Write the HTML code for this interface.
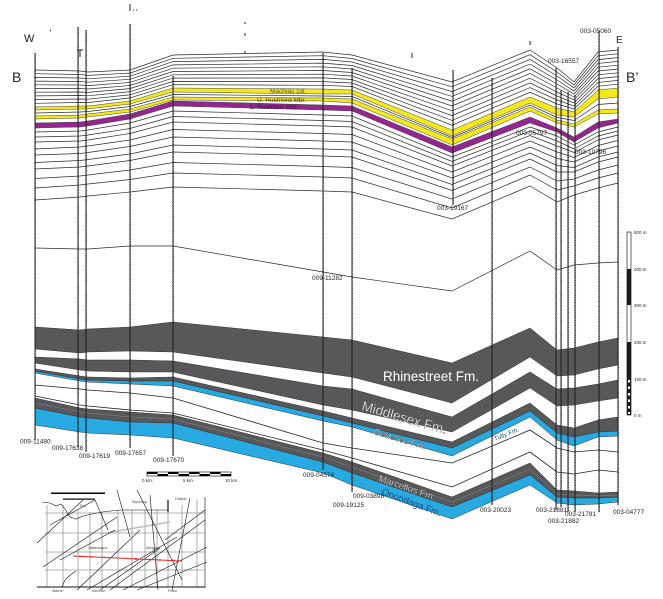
<!DOCTYPE html>
<html>
<head>
<meta charset="utf-8">
<style>
html,body{margin:0;padding:0;background:#fff;}
svg{display:block;}
text{font-family:"Liberation Sans",Arial,sans-serif;}
</style>
</head>
<body>
<svg width="663" height="599" viewBox="0 0 663 599" xmlns="http://www.w3.org/2000/svg">
<rect x="0" y="0" width="663" height="599" fill="#fff"/>

<!-- upper thin horizons -->
<g fill="none" stroke="#2a2a2a" stroke-width="0.7">
<polyline points="35,70 80,71 88,72 130,70 173,55 323,52 352,55 452,82 530,50 557,68 574,82 598,52 618,50"/>
<polyline points="35,73.7 80,74.5 88,75.4 130,73.1 173,58.3 323,55.7 352,58.5 452,86.8 530,54.7 557,72 574,85 598,55.8 618,53.8"/>
<polyline points="35,77.4 80,78 88,78.8 130,76.2 173,61.6 323,59.4 352,62 452,91.6 530,59.4 557,76 574,88 598,59.6 618,57.6"/>
<polyline points="35,81.1 80,81.5 88,82.2 130,79.3 173,64.9 323,63.1 352,65.5 452,96.4 530,64.1 557,80 574,91 598,63.4 618,61.4"/>
<polyline points="35,84.8 80,85 88,85.6 130,82.4 173,68.2 323,66.8 352,69 452,101.2 530,68.8 557,84 574,94 598,67.2 618,65.2"/>
<polyline points="35,88.5 80,88.5 88,89 130,85.5 173,71.5 323,70.5 352,72.5 452,106 530,73.5 557,88 574,97 598,71 618,69"/>
<polyline points="35,92.2 80,92 88,92.4 130,88.6 173,74.8 323,74.2 352,76 452,110.8 530,78.2 557,92 574,100 598,74.8 618,72.8"/>
<polyline points="35,95.9 80,95.5 88,95.8 130,91.7 173,78.1 323,77.9 352,79.5 452,115.6 530,82.9 557,96 574,103 598,78.6 618,76.6"/>
<polyline points="35,99.6 80,99 88,99.2 130,94.8 173,81.4 323,81.6 352,83 452,120.4 530,87.6 557,100 574,106 598,82.4 618,80.4"/>
<polyline points="35,103.3 80,102.5 88,102.6 130,97.9 173,84.7 323,85.3 352,86.5 452,125.2 530,92.3 557,104 574,109 598,86.2 618,84.2"/>
<polyline points="35,113 80,112 88,111.5 130,106.5 173,94.5 323,96 352,96.5 452,137.5 530,105 557,117.5 574,120.5 598,104.5 618,103"/>
<polyline points="35,132 80,131 88,130 130,123 173,111 323,115 352,116 452,157 530,127 557,136 574,145 598,132 618,127"/>
<polyline points="35,137 80,136 88,135 130,128.5 173,116.5 323,120.5 352,121.5 452,161.5 530,131 557,141 574,149 598,136 618,131"/>
<polyline points="35,142 80,141 88,140 130,133.5 173,122 323,126 352,127 452,166 530,135.5 557,146 574,152.5 598,140 618,135"/>
<polyline points="35,149 80,147 88,146 130,140 173,129.5 323,133.5 352,134.5 452,172 530,141 557,152 574,157.5 598,145.5 618,140.5"/>
<polyline points="35,155 80,153.5 88,152.5 130,146.5 173,137 323,141 352,142 452,178 530,147 557,158.5 574,162 598,151 618,146"/>
<polyline points="35,162.5 80,160.5 88,159.5 130,154 173,145 323,149 352,150 452,184.5 530,153 557,165.5 574,167.5 598,157 618,152"/>
<polyline points="35,169 80,167 88,166 130,160.5 173,152 323,156 352,157 452,190.5 530,159 557,172 574,172 598,162 618,157"/>
<polyline points="35,178.5 80,176 88,175 130,170 173,162.5 323,166.5 352,167.5 452,199 530,167 557,181 574,179 598,170 618,165"/>
<polyline points="35,188 80,185 88,184 130,179.5 173,173 323,177 352,178 452,208 530,175 557,190 574,186 598,178 618,173"/>
<polyline points="35,200 80,197 88,196 130,192 173,187 323,191 352,192 452,219 530,186 557,202 574,195 598,188 618,183"/>
<polyline points="35,248 80,249 88,249 130,246 173,246 323,272 352,277 452,291 530,251 557,270 574,265 598,263 618,262"/>
</g>

<!-- coloured marker beds -->
<g stroke="#444" stroke-width="0.5">
<polygon fill="#f3e81c" points="35,107 80,106 88,106 130,101 173,88 323,89 352,90 452,130 530,97 557,108 574,112 598,90 618,88 618,97 598,99 574,117 557,115 530,103 452,136 352,94 323,94 173,92 130,104 88,109 80,109 35,110"/>
<polygon fill="#f3e81c" points="35,116 80,115 88,114 130,109 173,97 323,98 352,99 452,139 530,107 557,120 574,124 598,110 618,109 618,113 598,114 574,127 557,123 530,111 452,145 352,103 323,101 173,100 130,112 88,117 80,118 35,119"/>
<polygon fill="#93278f" points="35,123 80,122 88,121 130,114 173,101 323,105 352,106 452,147 530,117 557,128 574,137 598,122 618,119 618,123 598,128 574,142 557,132 530,123 452,153 352,111 323,110 173,106 130,119 88,126 80,127 35,128"/>
</g>
<g font-size="6.5">
<text x="270" y="93" fill="#5c5a1e">Machias 1st</text>
<text x="257" y="102" fill="#4a4818">U. Rushford Mbr.</text>
<text x="250" y="109" fill="#3a1538">L. Rushford Mbr.</text>
</g>

<!-- lower shales and limestones -->
<g stroke="#333" stroke-width="0.5">
<polygon fill="#58585a" points="35,327 80,330 88,329 130,327 173,322 323,337 352,340 452,363 530,328 557,350 574,348 598,342 618,338 618,365 598,369 574,375 557,376 530,357 452,403 352,377 323,373 173,352 130,351 88,352 80,353 35,349"/>
<polygon fill="#58585a" points="35,357 80,359 88,360 130,360 173,361 323,386 352,389 452,417 530,372 557,389 574,388 598,384 618,380 618,398 598,401 574,405 557,406 530,388 452,432 352,410 323,405 173,372 130,372 88,371 80,370 35,363"/>
<polygon fill="#58585a" points="35,369 80,376 88,377 130,378 173,377 323,411 352,418 452,442 530,403 557,425 574,428 598,420 618,417 618,431 598,432 574,437 557,433 530,411 452,448 352,423 323,416 173,381 130,381 88,380 80,379 35,371"/>
<polygon fill="#27a9e1" points="35,371 80,379 88,380 130,381 173,381 323,416 352,423 452,448 530,411 557,433 574,437 598,432 618,431 618,436 598,437 574,446 557,440 530,417 452,456 352,427 323,421 173,386 130,384 88,382 80,381 35,373"/>
<polygon fill="#58585a" points="35,398 80,408 88,409 130,412 173,415 323,453 352,462 452,497 530,463 557,490 574,491 598,493 618,492 618,497 598,498 574,498 557,497 530,475 452,507 352,473 323,462 173,423 130,422 88,418 80,417 35,408"/>
<polygon fill="#27a9e1" points="35,408 80,417 88,418 130,422 173,423 323,462 352,473 452,507 530,475 557,497 574,498 598,498 618,497 618,502 598,504 574,505 557,503 530,485 452,519 352,485 323,473 173,438 130,435 88,433 80,432 35,425"/>
</g>
<g fill="none" stroke="#222" stroke-width="0.8">
<polyline points="35,385 80,389 88,390 130,393 173,398 323,443 352,448 452,463 530,430 557,448 574,452 598,450 618,452"/>
<polyline points="35,396 80,405 88,406 130,410 173,413 323,450 352,458 452,487 530,452 557,472 574,474 598,470 618,472"/>
<polyline stroke="#888" stroke-width="0.5" points="35,403 80,412 88,413 130,417 173,419 323,457 352,467 452,502 530,469 557,494 574,495 598,496 618,495"/>
</g>

<!-- formation labels -->
<text x="383" y="381" font-size="13.5" fill="#fff">Rhinestreet Fm.</text>
<text transform="translate(361,410) rotate(16)" font-size="13.5" fill="#fff" stroke="#444" stroke-width="0.3">Middlesex Fm.</text>
<text transform="translate(373,434) rotate(16.5)" font-size="9" fill="#fff" stroke="#333" stroke-width="0.3">Geneseo Fm.</text>
<text transform="translate(495,441) rotate(-22)" font-size="6.5" fill="#1b4e8c">Tully Fm.</text>
<text transform="translate(378,481) rotate(19)" font-size="9.5" fill="#fff" stroke="#333" stroke-width="0.25">Marcellus Fm.</text>
<text transform="translate(381,494) rotate(21)" font-size="9.5" fill="#1b4e8c">Onondaga Fm.</text>

<!-- wells -->
<g fill="none" stroke="#1e1e1e" stroke-width="1">
<line x1="35" y1="53" x2="35" y2="440"/>
<line x1="78" y1="27" x2="78" y2="447"/>
<line x1="86" y1="30" x2="86" y2="452"/>
<line x1="130" y1="24" x2="130" y2="448"/>
<line x1="173" y1="76" x2="173" y2="456"/>
<line x1="323" y1="53" x2="323" y2="470"/>
<line x1="352" y1="68" x2="352" y2="492"/>
<line x1="453" y1="70" x2="453" y2="205"/>
<line x1="492" y1="78" x2="492" y2="505"/>
<line x1="556" y1="68" x2="556" y2="510"/>
<line x1="561" y1="90" x2="561" y2="507"/>
<line x1="568" y1="92" x2="568" y2="512"/>
<line x1="575" y1="95" x2="575" y2="512"/>
<line x1="599" y1="31" x2="599" y2="512"/>
<line x1="618" y1="47" x2="618" y2="505"/>
</g>
<g fill="none" stroke="#555" stroke-width="0.45" stroke-dasharray="1 1.5">
<line x1="35.8" y1="53" x2="35.8" y2="440"/>
<line x1="78.8" y1="27" x2="78.8" y2="447"/>
<line x1="86.8" y1="30" x2="86.8" y2="452"/>
<line x1="130.8" y1="24" x2="130.8" y2="448"/>
<line x1="173.8" y1="76" x2="173.8" y2="456"/>
<line x1="323.8" y1="53" x2="323.8" y2="470"/>
<line x1="352.8" y1="68" x2="352.8" y2="492"/>
<line x1="453.8" y1="70" x2="453.8" y2="205"/>
<line x1="492.8" y1="78" x2="492.8" y2="505"/>
<line x1="556.8" y1="68" x2="556.8" y2="510"/>
<line x1="561.8" y1="90" x2="561.8" y2="507"/>
<line x1="568.8" y1="92" x2="568.8" y2="512"/>
<line x1="575.8" y1="95" x2="575.8" y2="512"/>
<line x1="599.8" y1="31" x2="599.8" y2="512"/>
<line x1="618.8" y1="47" x2="618.8" y2="505"/>
</g>
<!-- small top marks -->
<g stroke="#222" stroke-width="1" fill="none">
<line x1="130" y1="4" x2="130" y2="11"/>
<line x1="133" y1="10" x2="134" y2="10"/>
<line x1="136" y1="10" x2="137" y2="10"/>
<line x1="50" y1="30" x2="51" y2="31"/>
<line x1="245" y1="22" x2="245" y2="24"/>
<line x1="245" y1="33" x2="245" y2="36"/>
<line x1="245" y1="51" x2="245" y2="53"/>
<line x1="412" y1="53" x2="412" y2="58"/>
<line x1="530" y1="41" x2="530" y2="45"/>
<line x1="77" y1="50" x2="83" y2="50"/>
<line x1="80" y1="50" x2="80" y2="57"/>
</g>

<!-- section end labels -->
<text x="24" y="42" font-size="11" fill="#222">W</text>
<text x="12" y="82" font-size="14" fill="#222">B</text>
<text x="616" y="43" font-size="10" fill="#222">E</text>
<text x="626" y="82" font-size="14" fill="#222">B’</text>

<!-- well labels -->
<g font-size="6.5" fill="#222">
<text x="20" y="443.5">009-11480</text>
<text x="52" y="450">009-17638</text>
<text x="79" y="458">009-17619</text>
<text x="115" y="455">009-17657</text>
<text x="153" y="462">009-17670</text>
<text x="303" y="477">009-04574</text>
<text x="353" y="498">009-03898</text>
<text x="333" y="507">009-19125</text>
<text x="480" y="512">003-20023</text>
<text x="536" y="512">003-21881</text>
<text x="565" y="516">003-21781</text>
<text x="548" y="523">003-21882</text>
<text x="613" y="514">003-04777</text>
<text x="437" y="210">003-19167</text>
<text x="312" y="280">009-11282</text>
<text x="516" y="135">003-05797</text>
<text x="575" y="154">003-10796</text>
<text x="548" y="63">003-16557</text>
<text x="580" y="33">003-05060</text>
</g>

<!-- horizontal km scale -->
<g>
<rect x="147" y="472" width="84" height="4" fill="#fff" stroke="#000" stroke-width="0.6"/>
<rect x="147" y="472" width="10.5" height="2" fill="#000"/>
<rect x="157.5" y="474" width="10.5" height="2" fill="#000"/>
<rect x="168" y="472" width="10.5" height="2" fill="#000"/>
<rect x="178.5" y="474" width="10.5" height="2" fill="#000"/>
<rect x="189" y="472" width="10.5" height="2" fill="#000"/>
<rect x="199.5" y="474" width="10.5" height="2" fill="#000"/>
<rect x="210" y="472" width="10.5" height="2" fill="#000"/>
<rect x="220.5" y="474" width="10.5" height="2" fill="#000"/>
<text x="142" y="482" font-size="4.5" fill="#222">0 km.</text>
<text x="183" y="482" font-size="4.5" fill="#222">5 km.</text>
<text x="225" y="482" font-size="4.5" fill="#222">10 km.</text>
</g>

<!-- vertical m scale -->
<g>
<rect x="627" y="232" width="4" height="183" fill="#fff" stroke="#000" stroke-width="0.6"/>
<rect x="627" y="269" width="4" height="36" fill="#1a1a1a"/>
<rect x="627" y="342" width="4" height="73" fill="#1a1a1a"/>
<rect x="628" y="380" width="2" height="2.5" fill="#fff"/>
<rect x="628" y="386.5" width="2" height="2.5" fill="#fff"/>
<rect x="628" y="393" width="2" height="2.5" fill="#fff"/>
<rect x="628" y="399.5" width="2" height="2.5" fill="#fff"/>
<rect x="628" y="406" width="2" height="2.5" fill="#fff"/>
<rect x="628" y="412" width="2" height="2" fill="#fff"/>
<g font-size="4.5" fill="#222">
<text x="634" y="234">500 m</text>
<text x="634" y="271">400 m</text>
<text x="634" y="307">300 m</text>
<text x="634" y="344">200 m</text>
<text x="634" y="381">100 m</text>
<text x="634" y="417">0 m</text>
</g>
</g>

<!-- location map -->
<g>
<g stroke="#9a9a9a" stroke-width="0.8" fill="none">
<line x1="45" y1="513" x2="205" y2="513"/>
<line x1="45" y1="533" x2="205" y2="533"/>
<line x1="45" y1="552" x2="205" y2="552"/>
<line x1="45" y1="570" x2="205" y2="570"/>
<line x1="47" y1="505" x2="47" y2="587"/>
<line x1="63" y1="505" x2="63" y2="587"/>
<line x1="78" y1="510" x2="78" y2="587"/>
<line x1="90" y1="512" x2="90" y2="587"/>
<line x1="102" y1="512" x2="102" y2="587"/>
<line x1="118" y1="510" x2="118" y2="587"/>
<line x1="132" y1="510" x2="132" y2="587"/>
<line x1="145" y1="510" x2="145" y2="587"/>
<line x1="157" y1="510" x2="157" y2="587"/>
<line x1="168" y1="510" x2="168" y2="587"/>
<line x1="182" y1="505" x2="182" y2="587"/>
<line x1="197" y1="500" x2="197" y2="587"/>
<line x1="100" y1="534" x2="170" y2="522" stroke="#bbb" stroke-width="1.5"/>
</g>
<g stroke="#111" stroke-width="0.6" fill="none">
<polyline points="42,502 50,503 56,506 61,504 65,509 70,517 76,519 83,516 92,514 102,512 120,510 168,510"/>
<line x1="168" y1="500" x2="168" y2="512" stroke-width="1.2"/>
<line x1="205" y1="497" x2="205" y2="588"/>
<line x1="37" y1="587" x2="205" y2="587" stroke-width="0.9"/>
<line x1="37" y1="543" x2="83" y2="500"/>
<line x1="43" y1="567" x2="117" y2="517"/>
<line x1="77" y1="590" x2="140" y2="530"/>
<line x1="87" y1="590" x2="177" y2="537"/>
<line x1="123" y1="590" x2="207" y2="547"/>
<line x1="137" y1="590" x2="207" y2="562"/>
<line x1="100" y1="590" x2="160" y2="548"/>
<line x1="60" y1="560" x2="115" y2="530"/>
<line x1="137" y1="490" x2="182" y2="580"/>
<line x1="117" y1="490" x2="130" y2="537"/>
<line x1="150" y1="495" x2="158" y2="590"/>
<line x1="95" y1="500" x2="108" y2="530"/>
<line x1="165" y1="540" x2="205" y2="510"/>
<line x1="110" y1="590" x2="205" y2="520"/>
<line x1="50" y1="525" x2="95" y2="500"/>
<line x1="190" y1="498" x2="172" y2="590"/>
<polyline points="62,587 65,580 68,577 73,573 76,571"/>
</g>
<line x1="73" y1="556" x2="182" y2="561" stroke="#e8262a" stroke-width="1"/>
<g fill="#e8262a">
<circle cx="80" cy="556.3" r="0.9"/><circle cx="92" cy="556.9" r="0.9"/><circle cx="104" cy="557.4" r="0.9"/>
<circle cx="136" cy="558.9" r="1.1"/><circle cx="150" cy="559.5" r="0.9"/><circle cx="160" cy="560" r="0.9"/>
<circle cx="173" cy="560.6" r="1.2"/>
</g>
<rect x="51" y="492.5" width="54" height="1.5" fill="#000"/>
<rect x="63" y="498.5" width="32" height="1.2" fill="#000"/>
<g font-size="3.5" fill="#444">
<text x="80" y="507">Erie</text>
<text x="88" y="549">Cattaraugus</text>
<text x="146" y="549">Allegany</text>
<text x="132" y="503">Wyoming</text>
<text x="175" y="500">Ontario</text>
<text x="52" y="592">Warren</text>
<text x="92" y="592">McKean</text>
<text x="168" y="592">Potter</text>
</g>
</g>
</svg>
</body>
</html>
